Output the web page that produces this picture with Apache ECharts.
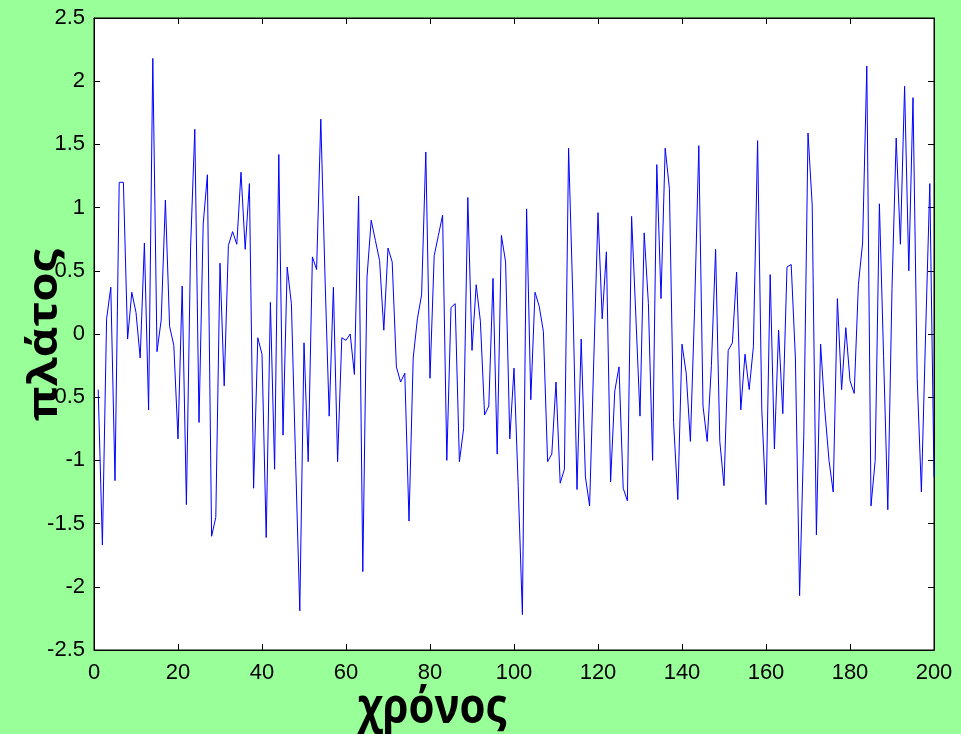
<!DOCTYPE html>
<html>
<head>
<meta charset="utf-8">
<script src="https://cdn.jsdelivr.net/npm/echarts@6/dist/echarts.min.js"></script>
<style>
  html, body { margin: 0; padding: 0; background: #99ff99; }
  #chart { width: 961px; height: 734px; }
</style>
</head>
<body>
<div id="chart"></div>
<script>
// Signal amplitude for time steps 1..200
const amplitude = [
  -0.44, -1.67, 0.12, 0.37, -1.16, 1.20, 1.20, -0.04, 0.33, 0.17,
  -0.19, 0.72, -0.60, 2.18, -0.14, 0.11, 1.06, 0.06, -0.09, -0.83,
  0.38, -1.35, 0.69, 1.62, -0.70, 0.87, 1.26, -1.60, -1.45, 0.56,
  -0.41, 0.70, 0.81, 0.71, 1.28, 0.67, 1.19, -1.22, -0.03, -0.16,
  -1.61, 0.25, -1.07, 1.42, -0.80, 0.53, 0.24, -1.00, -2.19, -0.07,
  -1.01, 0.61, 0.51, 1.70, 0.45, -0.65, 0.37, -1.01, -0.03, -0.05,
  0.00, -0.32, 1.09, -1.88, 0.45, 0.90, 0.74, 0.58, 0.03, 0.68,
  0.57, -0.26, -0.38, -0.31, -1.48, -0.19, 0.12, 0.31, 1.44, -0.35,
  0.62, 0.78, 0.94, -1.00, 0.21, 0.24, -1.01, -0.75, 1.08, -0.13,
  0.39, 0.10, -0.64, -0.57, 0.44, -0.95, 0.78, 0.57, -0.83, -0.27,
  -1.20, -2.22, 0.99, -0.52, 0.33, 0.22, 0.02, -1.01, -0.95, -0.38,
  -1.18, -1.07, 1.47, 0.30, -1.23, -0.04, -1.13, -1.36, -0.20, 0.96,
  0.12, 0.65, -1.17, -0.45, -0.26, -1.22, -1.32, 0.93, 0.15, -0.65,
  0.80, 0.24, -1.00, 1.34, 0.28, 1.47, 1.15, -0.70, -1.31, -0.08,
  -0.31, -0.85, 0.20, 1.49, -0.57, -0.85, -0.25, 0.67, -0.85, -1.20,
  -0.13, -0.07, 0.49, -0.60, -0.16, -0.44, -0.10, 1.53, -0.60, -1.35,
  0.47, -0.91, 0.03, -0.63, 0.53, 0.55, -0.19, -2.07, -0.80, 1.59,
  1.02, -1.59, -0.08, -0.60, -1.00, -1.25, 0.28, -0.44, 0.05, -0.37,
  -0.47, 0.39, 0.72, 2.12, -1.36, -1.00, 1.03, -0.18, -1.39, 0.36,
  1.55, 0.71, 1.96, 0.50, 1.87, -0.35, -1.25, 0.00, 1.19, -1.13
];
const timeSteps = amplitude.map((_, i) => i + 1);

const xLabel = 'χρόνος';
const yLabel = 'πλάτος';

const points = timeSteps.map((t, i) => [t, amplitude[i]]);

const tickFont = { color: '#000', fontSize: 22, fontFamily: '"Liberation Sans", Arial, sans-serif' };
const titleFont = 'bold 42px "Open Sans", sans-serif';

function boxAxis(extra) {
  return Object.assign({
    type: 'value',
    axisLine: { show: true, onZero: false, lineStyle: { color: '#000', width: 1 } },
    axisTick: { show: true, inside: true, length: 6, lineStyle: { color: '#000' } },
    splitLine: { show: false }
  }, extra);
}

const chart = echarts.init(document.getElementById('chart'), null, { renderer: 'canvas' });
chart.setOption({
  backgroundColor: '#99ff99',
  animation: false,
  grid: {
    left: 94, right: 27, top: 18, bottom: 84,
    show: true, backgroundColor: '#ffffff', borderColor: '#000', borderWidth: 1
  },
  xAxis: [
    boxAxis({ position: 'bottom', min: 0, max: 200, interval: 20,
      axisLabel: Object.assign({ margin: 12, showMinLabel: true, showMaxLabel: true }, tickFont) }),
    boxAxis({ position: 'top', min: 0, max: 200, interval: 20, axisLabel: { show: false } })
  ],
  yAxis: [
    boxAxis({ position: 'left', min: -2.5, max: 2.5, interval: 0.5,
      axisLabel: Object.assign({ margin: 9, showMinLabel: true, showMaxLabel: true }, tickFont) }),
    boxAxis({ position: 'right', min: -2.5, max: 2.5, interval: 0.5, axisLabel: { show: false } })
  ],
  series: [{
    type: 'line',
    data: points,
    showSymbol: false,
    lineStyle: { color: '#0000ff', width: 1 },
    xAxisIndex: 0,
    yAxisIndex: 0
  }],
  graphic: [
    {
      type: 'text',
      x: 432, y: 709,
      scaleY: 1.15,
      style: {
        text: xLabel,
        font: titleFont,
        fill: '#000',
        textAlign: 'center',
        textVerticalAlign: 'middle'
      }
    },
    {
      type: 'text',
      x: 45, y: 335,
      rotation: Math.PI / 2,
      scaleX: 1.12,
      style: {
        text: yLabel,
        font: titleFont,
        fill: '#000',
        textAlign: 'center',
        textVerticalAlign: 'middle'
      }
    }
  ]
});
</script>
</body>
</html>
